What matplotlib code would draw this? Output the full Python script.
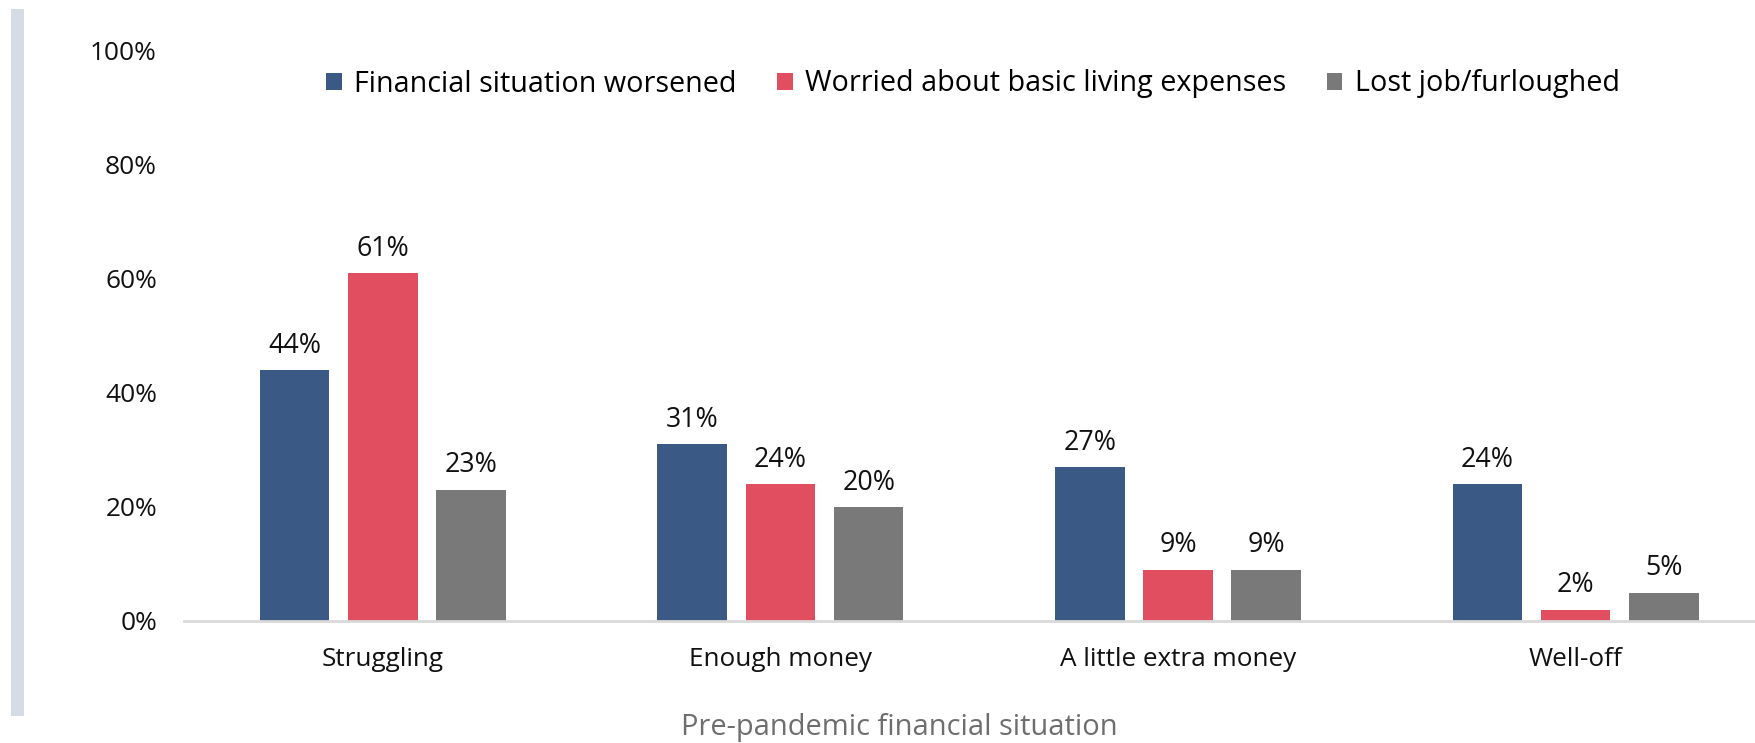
import matplotlib.pyplot as plt
from matplotlib.patches import Rectangle
import numpy as np

plt.rcParams['font.family'] = ['Open Sans', 'DejaVu Sans']

categories = ["Struggling", "Enough money", "A little extra money", "Well-off"]
series_names = ["Financial situation worsened",
                "Worried about basic living expenses",
                "Lost job/furloughed"]
worsened = [44, 31, 27, 24]
worried = [61, 24, 9, 2]
lost_job = [23, 20, 9, 5]
y_ticks = [0, 20, 40, 60, 80, 100]
y_tick_labels = ["0%", "20%", "40%", "60%", "80%", "100%"]
x_title = "Pre-pandemic financial situation"

colors = ["#3A5985", "#E04E60", "#797979"]

W, H = 1756, 743
fig = plt.figure(figsize=(W / 100, H / 100), dpi=100)

# decorative side strip
fig.patches.append(Rectangle((11 / W, (H - 716) / H), 13 / W, 707 / H,
                             transform=fig.transFigure, facecolor="#D6DCE5",
                             edgecolor="none"))

ax = fig.add_axes([184 / W, (H - 621) / H, (W - 184) / W, 570 / H])

x = np.arange(len(categories))
pitch = 0.222
width = 0.175
all_series = [worsened, worried, lost_job]
for i, (vals, name, col) in enumerate(zip(all_series, series_names, colors)):
    pos = x + (i - 1) * pitch
    bars = ax.bar(pos, vals, width=width, color=col, label=name, zorder=2)
    for b, v in zip(bars, vals):
        ax.annotate(f"{v}%", (b.get_x() + b.get_width() / 2, v),
                    xytext=(0, 7.5), textcoords="offset points",
                    ha="center", va="bottom", fontsize=19.3, color="#111111")

ax.set_xlim(-0.5, (W - 184) / 397.6 - 0.5)
ax.set_ylim(0, 100)
ax.set_yticks(y_ticks)
ax.set_yticklabels(y_tick_labels)
ax.set_xticks(x)
ax.set_xticklabels(categories)
ax.tick_params(axis="y", length=0, pad=19.5, labelsize=18.9, labelcolor="#111111")
ax.tick_params(axis="x", length=0, pad=19, labelsize=18.8, labelcolor="#111111")

for s in ["top", "right", "left"]:
    ax.spines[s].set_visible(False)
ax.spines["bottom"].set_color("#D9D9D9")
ax.spines["bottom"].set_linewidth(2)

leg = ax.legend(loc="center", bbox_to_anchor=(973 / W, (H - 84) / H),
                bbox_transform=fig.transFigure, ncol=3, frameon=False,
                fontsize=20.7, handlelength=0.55, handleheight=0.55,
                handletextpad=0.43, columnspacing=1.4)

fig.text(899 / W, (H - 728) / H, x_title, ha="center", va="center",
         fontsize=20.9, color="#6E6E6E")

fig.savefig("out.png", dpi=100)
